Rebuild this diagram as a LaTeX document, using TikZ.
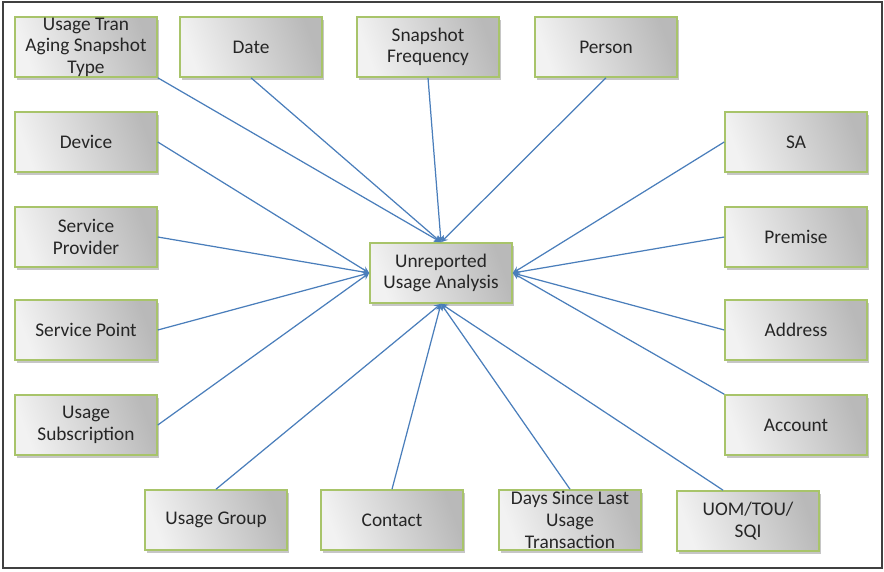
\documentclass[tikz,border=0pt]{standalone}
\usepackage{fontspec}
\setmainfont{Carlito}
\usetikzlibrary{shadows}
\definecolor{boxedge}{HTML}{A8C46A}
\definecolor{linkblue}{HTML}{4A7EBB}

\begin{document}
\begin{tikzpicture}[>=stealth, x=0.02cm, y=-0.02cm,
  ent/.style={draw=boxedge, line width=0.9pt, minimum width=2.84cm, minimum height=1.2cm,
    inner sep=0pt, align=center, left color=gray!10, right color=gray!55, shading angle=110,
    drop shadow={shadow xshift=1.2pt, shadow yshift=-1.8pt, opacity=0.45},
    text=black!85, font=\fontsize{11}{12.3}\selectfont},
  lnk/.style={->, draw=linkblue, line width=0.7pt}]
\useasboundingbox (0,0) rectangle (884,571);
\draw [line width=1pt, draw=black!75] (3,2) rectangle (882,568);

% centre
\node[ent] (ura) at (441,273) {Unreported\\Usage Analysis};

% top row
\node[ent] (utast) at (86,47) {Usage Tran\\Aging Snapshot\\Type};
\node[ent] (date) at (251,47) {Date};
\node[ent] (snap) at (428,47) {Snapshot\\Frequency};
\node[ent] (pers) at (606,47) {Person};

% left column
\node[ent] (dev) at (86,142) {Device};
\node[ent] (sp) at (86,237) {Service\\Provider};
\node[ent] (spt) at (86,330) {Service Point};
\node[ent] (usub) at (86,425) {Usage\\Subscription};

% right column
\node[ent] (sa) at (796,142) {SA};
\node[ent] (prem) at (796,237) {Premise};
\node[ent] (addr) at (796,330) {Address};
\node[ent] (acct) at (796,425) {Account};

% bottom row
\node[ent] (ugrp) at (216,520) {Usage Group};
\node[ent] (cont) at (392,520) {Contact};
\node[ent] (dslu) at (570,520) {Days Since Last\\Usage\\Transaction};
\node[ent] (uom) at (748,521) {UOM/TOU/\\SQI};

\draw[lnk] (utast.south east) -- (ura.north);
\draw[lnk] (date.south) -- (ura.north);
\draw[lnk] (snap.south) -- (ura.north);
\draw[lnk] (pers.south) -- (ura.north);

\draw[lnk] (dev.east) -- (ura.west);
\draw[lnk] (sp.east) -- (ura.west);
\draw[lnk] (spt.east) -- (ura.west);
\draw[lnk] (usub.east) -- (ura.west);

\draw[lnk] (sa.west) -- (ura.east);
\draw[lnk] (prem.west) -- (ura.east);
\draw[lnk] (addr.west) -- (ura.east);
\draw[lnk] (acct.north west) -- (ura.east);

\draw[lnk] (ugrp.north) -- (ura.south);
\draw[lnk] (cont.north) -- (ura.south);
\draw[lnk] (dslu.north) -- (ura.south);
\draw[lnk] (uom.129) -- (ura.south);
\end{tikzpicture}
\end{document}
